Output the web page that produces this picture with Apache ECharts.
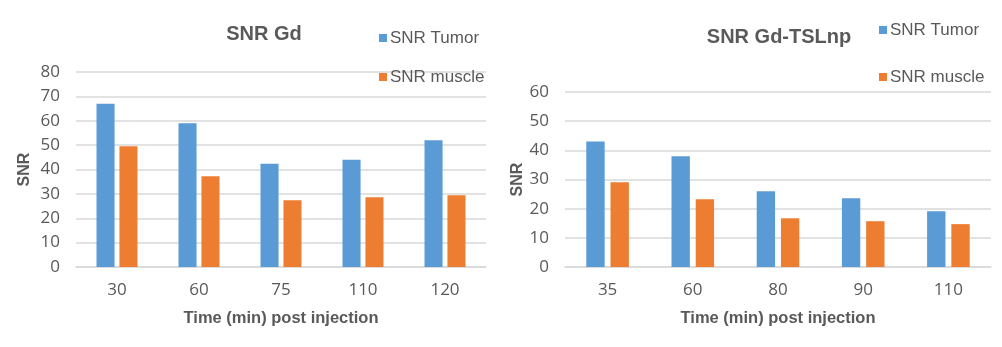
<!DOCTYPE html>
<html>
<head>
<meta charset="utf-8">
<script src="https://cdn.jsdelivr.net/npm/echarts@6/dist/echarts.min.js"></script>
<style>
  html, body { margin: 0; padding: 0; background: #fff; }
  #chart { width: 1002px; height: 347px; }
</style>
</head>
<body>
<div id="chart"></div>
<script>
// 左图 SNR Gd
var timesGd = ['30', '60', '75', '110', '120'];
var tumorGd = [67.0, 59.0, 42.4, 44.0, 52.0];
var muscleGd = [49.5, 37.2, 27.4, 28.6, 29.4];

// 右图 SNR Gd-TSLnp
var timesTsl = ['35', '60', '80', '90', '110'];
var tumorTsl = [43.0, 38.0, 26.0, 23.6, 19.1];
var muscleTsl = [29.1, 23.2, 16.7, 15.7, 14.7];

var blue = '#5B9BD5';
var orange = '#ED7D31';
var textColor = '#595959';
var lineColor = '#d9d9d9';
var font = '"Liberation Sans", Arial, sans-serif';
var numFont = '"Open Sans", sans-serif';

function xAxisOf(idx, data) {
    return {
        type: 'category',
        gridIndex: idx,
        data: data,
        axisTick: { show: false },
        axisLine: { lineStyle: { color: lineColor, width: 1.5 } },
        axisLabel: { color: textColor, fontSize: 17, fontFamily: numFont, margin: 15 },
        name: 'Time (min) post injection',
        nameLocation: 'middle',
        nameGap: 43,
        nameTextStyle: { color: textColor, fontSize: 16.5, fontWeight: 'bold', fontFamily: font }
    };
}

function yAxisOf(idx, max, gap) {
    return {
        type: 'value',
        gridIndex: idx,
        min: 0,
        max: max,
        interval: 10,
        axisLine: { show: false },
        axisTick: { show: false },
        splitLine: { lineStyle: { color: lineColor, width: 1.5 } },
        axisLabel: { color: textColor, fontSize: 17, fontFamily: numFont, margin: 16 },
        name: 'SNR',
        nameLocation: 'middle',
        nameRotate: 90,
        nameGap: gap,
        nameTextStyle: { color: textColor, fontSize: 16, fontWeight: 'bold', fontFamily: font }
    };
}

function barOf(name, idx, data, color, gap) {
    return {
        name: name,
        type: 'bar',
        xAxisIndex: idx,
        yAxisIndex: idx,
        data: data,
        barGap: gap,
        barCategoryGap: '50%',
        itemStyle: { color: color }
    };
}

var chart = echarts.init(document.getElementById('chart'));
var option = {
    animation: false,
    title: [
        { text: 'SNR Gd', left: 259, top: 19, textAlign: 'center',
          textStyle: { color: textColor, fontSize: 20, fontWeight: 'bold', fontFamily: font } },
        { text: 'SNR Gd-TSLnp', left: 774, top: 22, textAlign: 'center',
          textStyle: { color: textColor, fontSize: 20, fontWeight: 'bold', fontFamily: font } }
    ],
    legend: [
        { orient: 'vertical', left: 379, top: 29.5, padding: 0, itemWidth: 8, itemHeight: 8, itemGap: 22,
          icon: 'rect', data: ['SNR Tumor', 'SNR muscle'],
          textStyle: { color: textColor, fontSize: 17, fontFamily: font, padding: [0, 0, 0, -2] } },
        { orient: 'vertical', left: 879, top: 21.5, padding: 0, itemWidth: 8, itemHeight: 8, itemGap: 30,
          icon: 'rect', data: ['SNR Tumor', 'SNR muscle'],
          textStyle: { color: textColor, fontSize: 17, fontFamily: font, padding: [0, 0, 0, -2] } }
    ],
    grid: [
        { left: 76, top: 72, width: 410, height: 195 },
        { left: 565, top: 92, width: 426, height: 175 }
    ],
    xAxis: [xAxisOf(0, timesGd), xAxisOf(1, timesTsl)],
    yAxis: [yAxisOf(0, 80, 43), yAxisOf(1, 60, 39)],
    series: [
        barOf('SNR Tumor', 0, tumorGd, blue, '27%'),
        barOf('SNR muscle', 0, muscleGd, orange, '27%'),
        barOf('SNR Tumor', 1, tumorTsl, blue, '32%'),
        barOf('SNR muscle', 1, muscleTsl, orange, '32%')
    ]
};
chart.setOption(option);
</script>
</body>
</html>
